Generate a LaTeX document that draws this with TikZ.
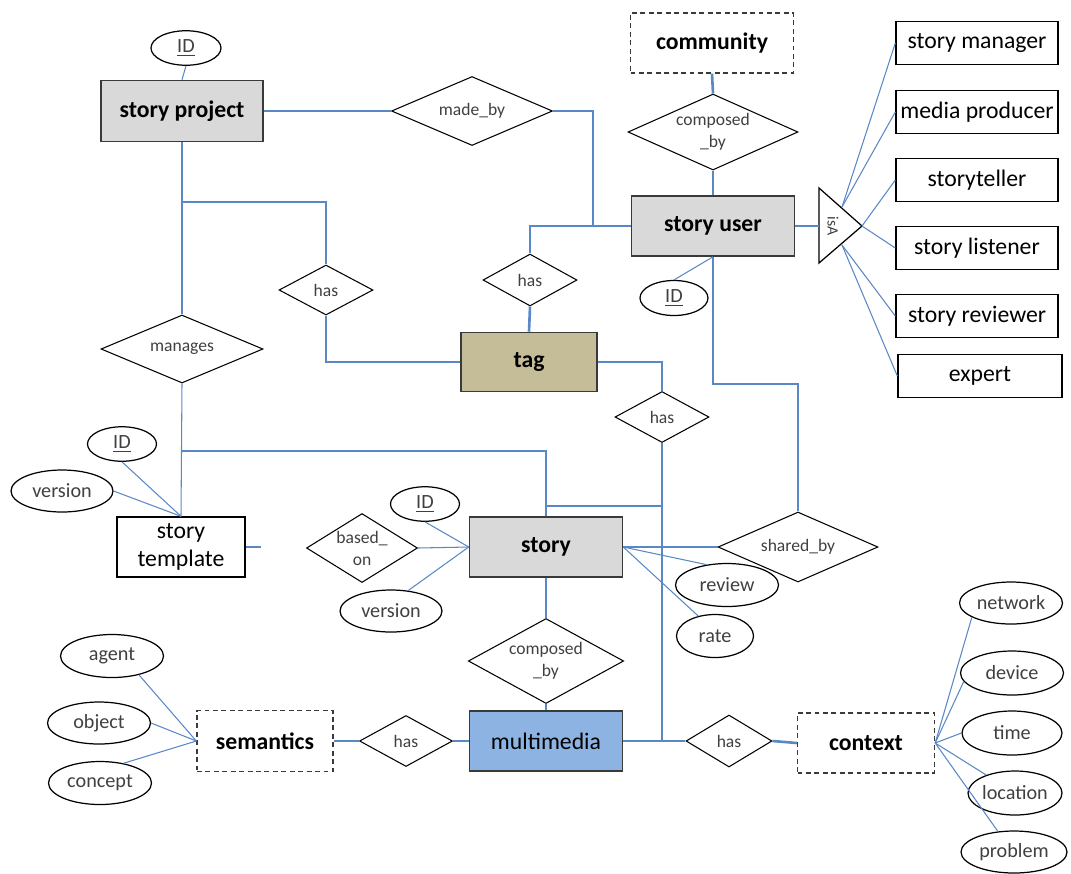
\documentclass[tikz,border=0pt]{standalone}
\usepackage{fontspec}
\setmainfont{Carlito}
\usetikzlibrary{shapes.geometric}
\definecolor{linkblue}{HTML}{5A88C6}
\definecolor{entgray}{HTML}{D9D9D9}
\definecolor{tagtan}{HTML}{C4BD97}
\definecolor{mmblue}{HTML}{8DB3E2}
\definecolor{edgegray}{HTML}{3A3A3A}
\definecolor{txtgray}{HTML}{404040}

\begin{document}
\begin{tikzpicture}[x=0.02cm, y=-0.02cm,
  entity/.style={draw=edgegray, line width=0.9pt, minimum width=3.26cm, minimum height=1.2cm,
                 inner sep=2pt, font=\fontsize{13.5}{16}\selectfont\bfseries},
  weakent/.style={draw=edgegray, line width=0.8pt, dash pattern=on 2.8pt off 2pt,
                  minimum width=2.72cm, minimum height=1.2cm, font=\fontsize{13.5}{16}\selectfont\bfseries},
  rel/.style={diamond, draw=black, line width=0.6pt, aspect=2.2, inner sep=0pt, align=center,
              text=txtgray, font=\fontsize{10}{12.5}\selectfont},
  hasrel/.style={rel, minimum width=1.88cm, minimum height=1.02cm},
  attr/.style={ellipse, draw=black, line width=0.7pt, inner sep=0pt, text=txtgray,
               minimum width=2.06cm, minimum height=0.86cm, font=\fontsize{11.5}{13}\selectfont},
  idattr/.style={attr, minimum width=1.38cm, minimum height=0.69cm},
  subtype/.style={draw=black, line width=0.8pt, minimum width=3.24cm, minimum height=0.86cm,
                  inner sep=1pt, font=\fontsize{13.5}{16}\selectfont},
  link/.style={linkblue, line width=0.6pt},
  heavylink/.style={linkblue, line width=1.5pt}]

\useasboundingbox (0,0) rectangle (1071,873);

% ========== story project (top left) ==========
\node[entity, fill=entgray, minimum width=3.24cm, minimum height=1.22cm] (project) at (182,111) {story project};
\node[idattr, minimum width=1.4cm] (projid) at (186,48) {\underline{ID}};
\node[rel, minimum width=3.22cm, minimum height=1.38cm] (madeby) at (472,111) {made\_by};
\node[hasrel, minimum height=1cm] (projtag) at (326,290) {has};
\node[rel, minimum width=3.24cm, minimum height=1.36cm] (manages) at (182,349) {manages};

% story template
\node[subtype, minimum width=2.56cm, minimum height=1.2cm, align=center] (template) at (181,547) {story\\template};
\node[idattr] (tmplid) at (122,444) {\underline{ID}};
\node[attr, minimum width=2.04cm, minimum height=0.84cm] (tmplver) at (62,491) {version};

% ========== story user (top) ==========
\node[weakent, minimum width=3.26cm] (community) at (712,43) {community};
\node[rel, minimum width=3.4cm, minimum height=1.52cm] (usercomp) at (713,132) {composed\\\_by};
\node[entity, fill=entgray] (user) at (713,226) {story user};
\node[idattr, minimum width=1.36cm, minimum height=0.7cm] (userid) at (674,298) {\underline{ID}};
\node[hasrel, minimum height=1.04cm] (usertag) at (530,280) {has};

% isA hierarchy
\coordinate (isatop) at (819,188);
\coordinate (isabot) at (819,263);
\coordinate (isatip) at (862,226);
\coordinate (isabase) at (819,226);
\coordinate (isaup) at (842,207);
\coordinate (isalow) at (842,245);
\draw[black, line width=0.7pt] (isatop) -- (isatip) -- (isabot) -- cycle;
\node[rotate=-90, inner sep=0pt, text=txtgray, font=\fontsize{9}{10}\selectfont] (isa) at (833,226) {isA};

\node[subtype] (sman) at (977,43) {story manager};
\node[subtype] (mprod) at (977,112) {media producer};
\node[subtype] (steller) at (977,180) {storyteller};
\node[subtype] (slisten) at (977,248) {story listener};
\node[subtype] (sreview) at (977,316) {story reviewer};
\node[subtype, minimum width=3.28cm] (expert) at (980,376) {expert};

% ========== tag and story (middle) ==========
\node[entity, fill=tagtan, minimum width=2.72cm, minimum height=1.18cm] (tag) at (529,362) {tag};
\node[hasrel] (tagmm) at (662,417) {has};

\node[entity, fill=entgray, minimum width=3.06cm] (story) at (546,547) {story};
\node[idattr] (storyid) at (425,504) {\underline{ID}};
\node[rel, aspect=1.6, inner xsep=-5pt, minimum width=2.22cm, minimum height=1.38cm] (basedon) at (362,548) {based\_\\on};
\node[attr, minimum width=2.04cm, minimum height=0.84cm] (storyver) at (391,611) {version};
\node[rel, minimum width=3.2cm, minimum height=1.4cm] (shared) at (798,547) {shared\_by};
\node[attr] (review) at (727,585) {review};
\node[attr, minimum width=1.54cm] (rate) at (715,636) {rate};
\node[rel, minimum width=3.08cm, minimum height=1.7cm] (mmcomp) at (546,661) {composed\\\_by};

% ========== multimedia (bottom) ==========
\node[entity, fill=mmblue, minimum width=3.06cm, font=\fontsize{13.5}{16}\selectfont] (mm) at (546,741) {multimedia};
\node[hasrel, minimum width=1.86cm] (semmm) at (406,741) {has};
\node[weakent, minimum height=1.22cm] (sem) at (265,741) {semantics};
\node[attr] (agent) at (112,656) {agent};
\node[attr, minimum height=0.84cm] (object) at (99,723) {object};
\node[attr] (concept) at (100,783) {concept};

\node[hasrel, minimum width=1.72cm, minimum height=1.04cm] (mmctx) at (729,741) {has};
\node[weakent, minimum width=2.74cm] (context) at (866,743) {context};
\node[attr, minimum height=0.84cm] (net) at (1011,603) {network};
\node[attr, minimum height=0.88cm] (dev) at (1012,673) {device};
\node[attr, minimum width=2cm, minimum height=0.88cm] (time) at (1012,733) {time};
\node[attr, minimum width=1.88cm, minimum height=0.88cm] (loc) at (1015,793) {location};
\node[attr, minimum width=2.12cm, minimum height=0.84cm] (prob) at (1014,852) {problem};

% ========== connectors ==========
\coordinate (userjoin) at (593,226);
\coordinate (projjoin) at (182,202);
\coordinate (tmpljoin) at (182,451);
\coordinate (storyjoin) at (547,506);
\coordinate (sharebend) at (713,384);

% story project
\draw[link] (projid.south) -- (project.north);
\draw[link] (project.east) -- (madeby.west);
\draw[link] (madeby.east) -| (userjoin);
\draw[link] (project.south) -- (manages.north);
\draw[link] (projjoin) -| (projtag.north);
\draw[link] (projtag.south) |- (tag.west);
\draw[link] (manages.south) -- (template.north);
\draw[link] (tmpljoin) -| (story.north);
\draw[link] (template.east) -- ++(15,0);
\draw[link] (tmplid.south) -- (template.north);
\draw[link] (tmplver.east) -- (template.north);

% story user
\draw[heavylink] (community.south) -- (usercomp.north);
\draw[heavylink] (usercomp.south) -- (user.north);
\draw[heavylink] (user.west) -| (usertag.north);
\draw[heavylink] (usertag.south) -- (tag.north);
\draw[link] (user.south) -- (userid.north);
\draw[link] (user.south) -- (sharebend) -| (shared.north);
\draw[link] (user.east) -- (isabase);
\draw[link] (isaup) -- (sman.west);
\draw[link] (isaup) -- (mprod.west);
\draw[link] (isatip) -- (steller.west);
\draw[link] (isatip) -- (slisten.west);
\draw[link] (isalow) -- (sreview.west);
\draw[link] (isalow) -- (expert.west);

% tag -- multimedia
\draw[heavylink] (tag.east) -| (tagmm.north);
\draw[heavylink] (tagmm.south) -- (tagmm.south |- mm.east);
\draw[link] (storyjoin) -- (storyjoin -| tagmm.south);

% story
\draw[link] (storyid.south) -- (story.west);
\draw[link] (basedon.east) -- (story.west);
\draw[link] (storyver.50) -- (story.west);
\draw[link] (story.east) -- (shared.west);
\draw[link] (story.east) -- (review.135);
\draw[link] (story.east) -- (rate.130);
\draw[link] (story.south) -- (mmcomp.north);
\draw[link] (mmcomp.south) -- (mm.north);

% multimedia
\draw[heavylink] (sem.east) -- (semmm.west);
\draw[heavylink] (semmm.east) -- (mm.west);
\draw[heavylink] (mm.east) -- (mmctx.west);
\draw[heavylink] (mmctx.east) -- (context.west);
\foreach \a/\p in {agent/-35, object/0, concept/40}
  \draw[link] (sem.west) -- (\a.\p);
\foreach \a/\p in {net/200, dev/190, time/180, loc/148, prob/128}
  \draw[link] (context.east) -- (\a.\p);

\end{tikzpicture}
\end{document}
